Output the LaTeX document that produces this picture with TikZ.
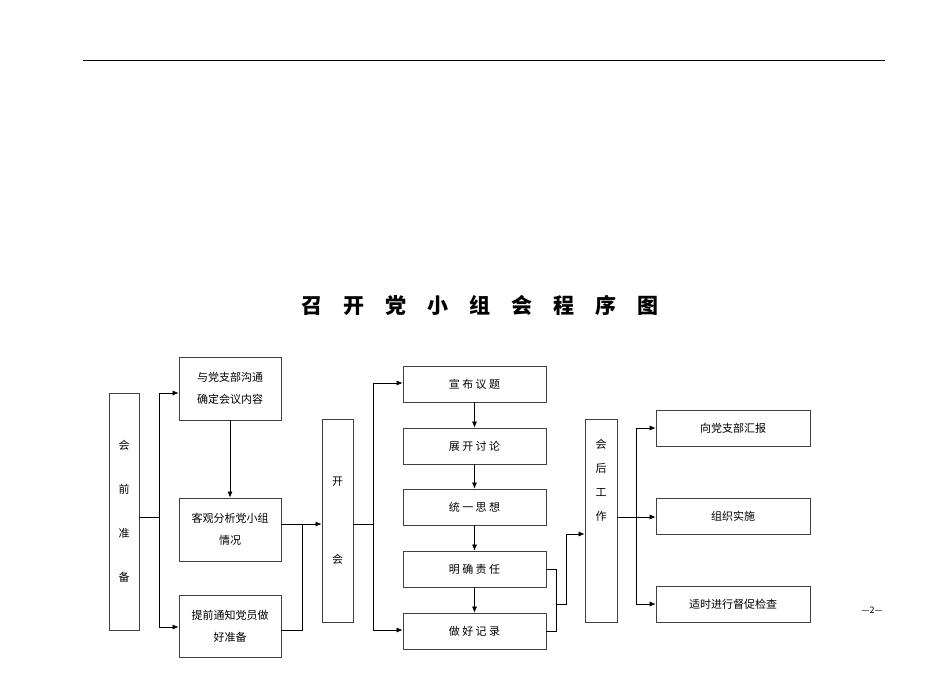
\documentclass[tikz,border=0pt]{standalone}
\usepackage{fontspec}
\setmainfont{Noto Sans CJK SC}
\usetikzlibrary{arrows.meta}
\begin{document}
\begin{tikzpicture}[x={(1pt,0)},y={(0,-1pt)},
  bx/.style={draw=black!75,line width=0.8pt,inner sep=0pt,font=\fontsize{11}{22}\selectfont,align=center},
  ln/.style={draw=black,line width=0.6pt},
  ar/.style={ln,-{Latex[length=6pt,width=5pt]}}]
\useasboundingbox (0,0) rectangle (950,672);
\draw[line width=0.6pt] (83,60) -- (885,60);
\node[font=\bfseries\fontsize{21}{24}\selectfont] (title) at (480,305) {召\quad 开\quad 党\quad 小\quad 组\quad 会\quad 程\quad 序\quad 图};
\node[font=\fontsize{9}{10}\selectfont] (pg) at (872,610) {—2—};
\newcommand\bxat[6]{\node[bx,minimum width=#4-#2,minimum height=#5-#3] (#1) at ({(#2+#4)/2},{(#3+#5)/2}) {#6};}
\bxat{a}{109}{393}{139}{630}{会\\[22pt]前\\[22pt]准\\[22pt]备}
\bxat{b1}{179}{357}{281}{420}{与党支部沟通\\确定会议内容}
\bxat{b2}{179}{498}{281}{561}{客观分析党小组\\情况}
\bxat{b3}{179}{595}{281}{657}{提前通知党员做\\好准备}
\bxat{k}{322}{419}{353}{622}{开\\[56pt]会}
\bxat{c1}{403}{366}{546}{402}{宣\ 布\ 议\ 题}
\bxat{c2}{403}{428}{546}{464}{展\ 开\ 讨\ 论}
\bxat{c3}{403}{489}{546}{525}{统\ 一\ 思\ 想}
\bxat{c4}{403}{551}{546}{587}{明\ 确\ 责\ 任}
\bxat{c5}{403}{613}{546}{649}{做\ 好\ 记\ 录}
\bxat{h}{585}{419}{617}{622}{会\\[2pt]后\\[2pt]工\\[2pt]作\\[60pt]}
\bxat{d1}{656}{410}{810}{446}{向党支部汇报}
\bxat{d2}{656}{498}{810}{534}{组织实施}
\bxat{d3}{656}{586}{810}{622}{适时进行督促检查}
\coordinate (j1) at (159,517);
\coordinate (j2) at (302,524);
\coordinate (j3) at (373,524);
\coordinate (j4) at (556,604);
\coordinate (j5) at (636,517);
\draw[ln] (a.east|-j1) -- (j1);
\draw[ar] (j1) |- (b1.west|-0,393);
\draw[ar] (j1) |- (b3.west|-0,627);
\draw[ar] (b1) -- (b2);
\draw[ar] (b2.east|-j2) -- (k.west|-j2);
\draw[ln] (b3.east|-0,630) -| (j2);
\draw[ln] (k.east|-j3) -- (j3);
\draw[ar] (j3) |- (c1.west|-0,383);
\draw[ar] (j3) |- (c5.west|-0,630);
\draw[ar] (c1) -- (c2);
\draw[ar] (c2) -- (c3);
\draw[ar] (c3) -- (c4);
\draw[ar] (c4) -- (c5);
\draw[ln] (c4.east|-0,569) -| (j4);
\draw[ln] (c5.east|-0,631) -| (j4);
\draw[ar] (j4) -- (566,604) |- (h.west|-0,534);
\draw[ar] (h.east|-j5) -- (d2.west|-j5);
\draw[ar] (j5) |- (d1.west|-0,428);
\draw[ar] (j5) |- (d3.west|-0,604);
\end{tikzpicture}
\end{document}
